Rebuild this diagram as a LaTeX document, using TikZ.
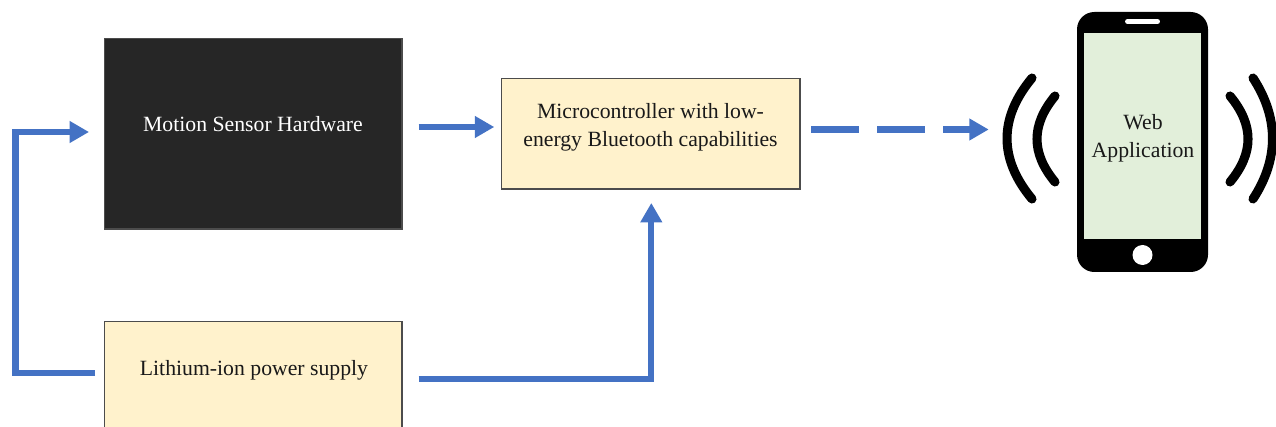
\documentclass[tikz,border=0pt]{standalone}
\usepackage{fontspec}
\setmainfont{Liberation Serif}
\usetikzlibrary{arrows.meta,calc}
\definecolor{flowblue}{HTML}{4472C4}
\definecolor{boxcream}{HTML}{FFF2CC}
\definecolor{boxdark}{HTML}{262626}
\definecolor{screengreen}{HTML}{E2EFDA}
\tikzset{
  blockbox/.style={draw=black!70,line width=0.9pt,minimum width=223pt,inner sep=0pt},
  creambox/.style={blockbox,fill=boxcream},
  caption/.style={font=\fontsize{16.3}{21}\selectfont,align=center,inner sep=0pt,text=black!90},
  flow/.style={draw=flowblue,line width=4.6pt,-{Triangle[length=14.5pt,width=15.5pt]}},
  flowdash/.style={flow,dash pattern=on 36pt off 13.5pt},
  wave/.style={draw=black,line width=6.8pt,line cap=round},
}
\begin{document}
\begin{tikzpicture}[x=0.75pt,y=-0.75pt]
\clip (0,0) rectangle (1276,427);
\useasboundingbox (0,0) rectangle (1276,427);
\fill[white] (0,0) rectangle (1276,427);
% blocks
\node[blockbox,fill=boxdark,minimum height=143pt] (motion) at (253.3,133.7) {};
\node[caption,text=white] (motiontext) at (253,124.5) {Motion Sensor Hardware};
\node[creambox,minimum width=224pt,minimum height=83pt] (micro) at (650.7,133.7) {};
\node[caption] (microtext) at (650.5,127) {Microcontroller with low-\\energy Bluetooth capabilities};
\node[creambox,minimum height=86pt] (lith) at (253.3,378.7) {};
\node[caption] (lithtext) at (254,370.5) {Lithium-ion power supply};
% phone
\node[draw=none,fill=black,rounded corners=13pt,minimum width=98.25pt,minimum height=195pt,inner sep=0pt] (phone) at (1142.5,142) {};
\node[fill=screengreen,minimum width=87.75pt,minimum height=154.5pt,inner sep=0pt] (screen) at (1142.5,136) {};
\node[caption] (webtext) at (1143,138.5) {Web\\Application};
\node[fill=white,rounded corners=1.5pt,minimum width=26pt,minimum height=3.5pt,inner sep=0pt] (speaker) at (1142.5,21.5) {};
\node[circle,fill=white,minimum size=15pt,inner sep=0pt] (homekey) at (1142.5,255) {};
% waves
\draw[wave] (1032,78) .. controls (998.7,118) and (998.7,159) .. (1032,199);
\draw[wave] (1055,96) .. controls (1031,125) and (1031,153) .. (1055,182);
\draw[wave] (1253,78) .. controls (1279,118) and (1279,159) .. (1253,199);
\draw[wave] (1230,96) .. controls (1254,125) and (1254,153) .. (1230,182);
% connectors
\draw[flow] ($(motion.east)+(16,-6.7)$) -- ($(micro.west)+(-6.5,-6.7)$);
\draw[flowdash] ($(micro.east)+(10.5,-4.2)$) -- ($(phone.west)+(-88,-12.5)$);
\draw[flow] ($(lith.west)+(-9,-5.7)$) -| (15.5,132) -- ($(motion.west)+(-15,-1.7)$);
\draw[flow] (lith.east)++(16,0) -| ($(micro.south)+(0.6,13.3)$);
\end{tikzpicture}
\end{document}
